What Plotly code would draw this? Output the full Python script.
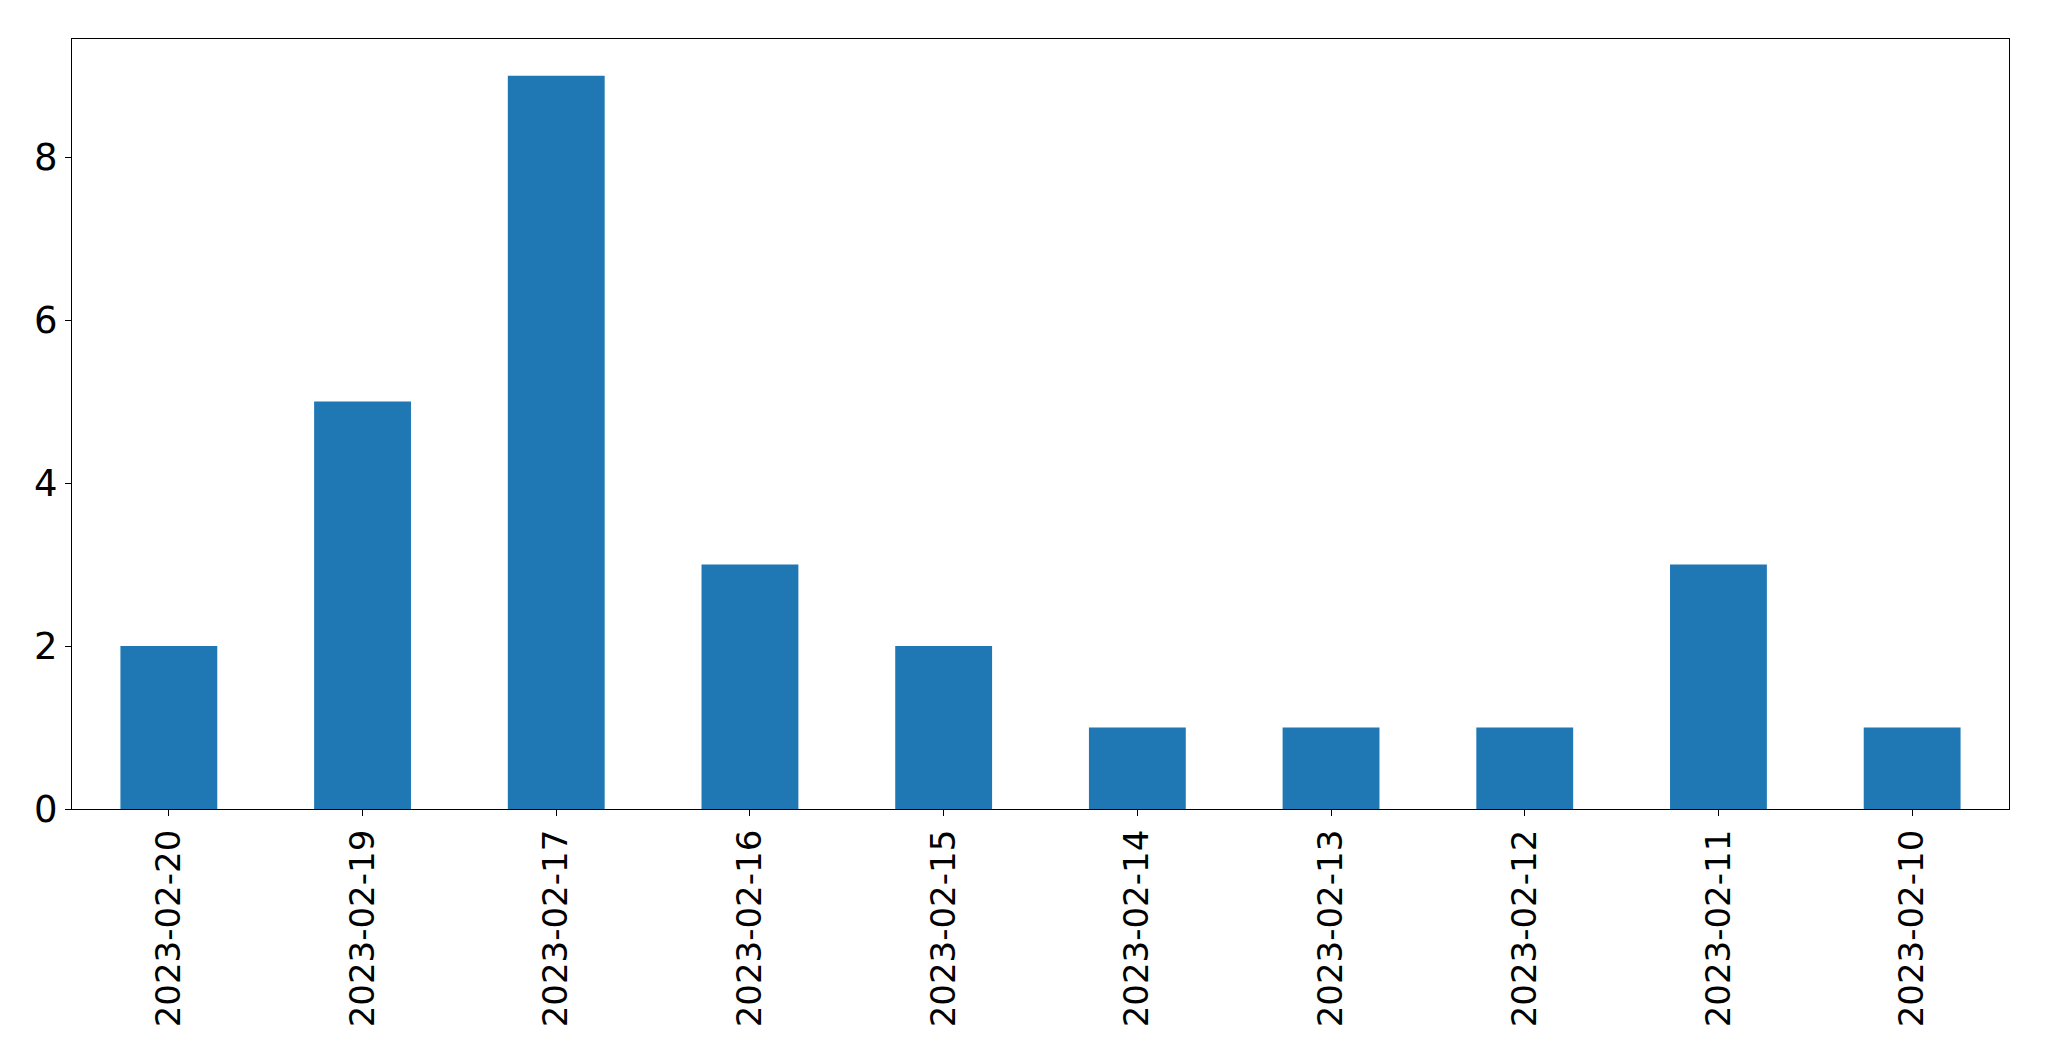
import plotly.graph_objects as go

dates = ["2023-02-20", "2023-02-19", "2023-02-17", "2023-02-16", "2023-02-15",
         "2023-02-14", "2023-02-13", "2023-02-12", "2023-02-11", "2023-02-10"]
counts = [2, 5, 9, 3, 2, 1, 1, 1, 3, 1]
y_ticks = [0, 2, 4, 6, 8]

fig = go.Figure(go.Bar(x=dates, y=counts, marker=dict(color="#1f77b4", line=dict(width=0))))

W, H = 2049, 1061
fig.update_layout(
    width=W, height=H,
    margin=dict(l=64, r=48, t=31, b=260, autoexpand=False),
    paper_bgcolor="white", plot_bgcolor="white",
    bargap=0.5, showlegend=False,
    font=dict(family="DejaVu Sans", size=34, color="black"),
)
fig.update_xaxes(
    type="category", range=[-0.5, 9.5], tickangle=-90,
    showline=True, linecolor="black", linewidth=1.3, mirror=True,
    ticks="outside", ticklen=6, tickwidth=1.3, tickcolor="black",
    showgrid=False, zeroline=False, tickfont=dict(size=34),
)
fig.update_yaxes(
    range=[0, 9.45], tickvals=y_ticks, ticktext=[str(v) for v in y_ticks],
    showline=True, linecolor="black", linewidth=1.3, mirror=True,
    ticks="outside", ticklen=6, tickwidth=1.3, tickcolor="black",
    showgrid=False, zeroline=False, tickfont=dict(size=37),
)
fig.write_html("out.html")
